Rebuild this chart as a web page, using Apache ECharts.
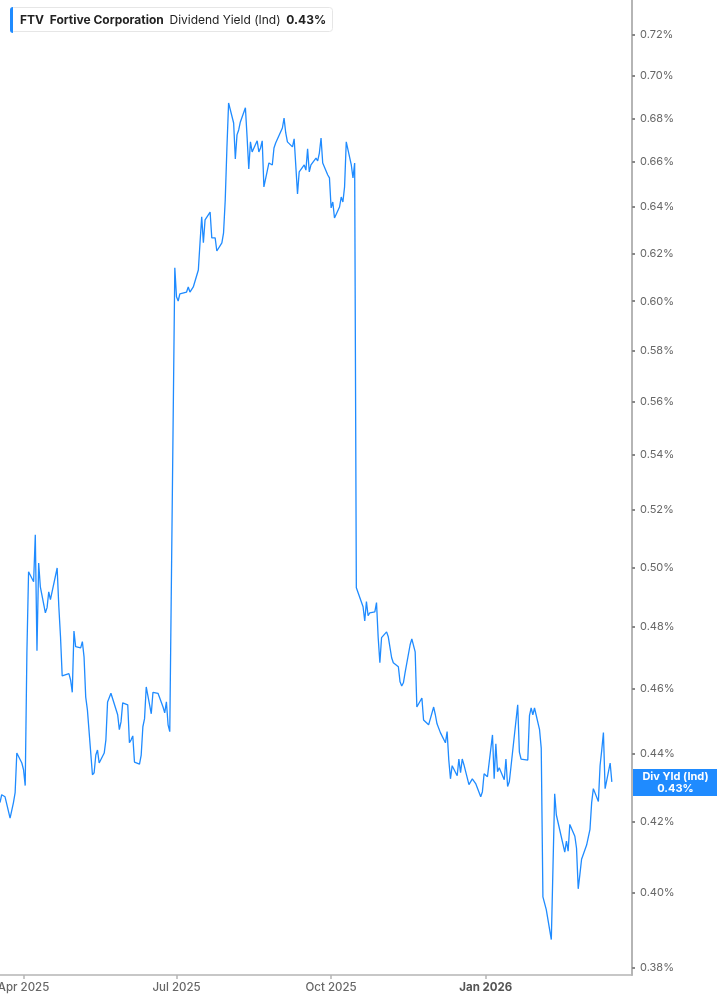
<!DOCTYPE html>
<html><head><meta charset="utf-8">
<script src="https://cdn.jsdelivr.net/npm/echarts@6/dist/echarts.min.js"></script>
<style>html,body{margin:0;padding:0;background:#fff}#c{width:717px;height:1005px}</style>
</head><body><div id="c"></div>
<script>
const ticker = 'FTV';
const companyName = 'Fortive Corporation';
const metricName = 'Dividend Yield (Ind)';
const endLabelName = 'Div Yld (Ind)';
const startDate = '2025-03-18';
const holidays = ['2025-04-18','2025-05-26','2025-06-19','2025-07-04','2025-09-01','2025-11-27','2025-12-25','2026-01-01','2026-01-19','2026-02-16'];

// Dividend yield (%), one value per trading day
const yieldSpring = [0.4256,0.4279,0.4282,0.4273,0.4211,0.4211,0.4256,0.4285,0.4403,0.4373,
0.4353,0.4306,0.4716,0.4985,0.4951,0.5113,0.4723,0.5015,0.4934,0.4847,
0.4864,0.4917,0.4891,0.4998,0.4867,0.4768,0.4642,0.4642,0.4649,0.4629,
0.4590,0.4787,0.4736,0.4732,0.4752,0.4703,0.4575,0.4535,0.4338,0.4344,
0.4397,0.4412,0.4373,0.4403,0.4443,0.4560,0.4560,0.4587,0.4520,0.4474,
0.4498,0.4557,0.4551,0.4434,0.4443,0.4455,0.4376,0.4370,0.4397,0.4483,
0.4508,0.4607,0.4523,0.4590,0.4584,0.4587,0.4544,0.4526,0.4560,0.4489,
0.4468];
const yieldSummer = [0.6139,0.6018,0.6001,0.6030,0.6038,0.6059,0.6038,0.6030,0.6059,0.6130,
0.6245,0.6357,0.6245,0.6344,0.6378,0.6266,0.6266,0.6266,0.6210,0.6245,
0.6288,0.6431,0.6664,0.6873,0.6779,0.6614,0.6724,0.6747,0.6784,0.6850,
0.6715,0.6569,0.6692,0.6646,0.6697,0.6646,0.6664,0.6697,0.6489,0.6596,
0.6596,0.6587,0.6664,0.6687,0.6756,0.6802,0.6733,0.6692,0.6669,0.6706,
0.6697,0.6458,0.6556,0.6587,0.6564,0.6660,0.6556,0.6587,0.6618,0.6605,
0.6641,0.6710,0.6596,0.6542,0.6529,0.6396,0.6422,0.6352,0.6400,0.6444,
0.6422,0.6489,0.6692,0.6587,0.6529,0.6596];
const yieldAutumn = [0.4931,0.4928,0.4867,0.4820,0.4884,0.4837,0.4847,0.4850,0.4881,0.4765,
0.4684,0.4765,0.4784,0.4768,0.4774,0.4700,0.4684,0.4671,0.4623,0.4610,
0.4620,0.4652,0.4742,0.4761,0.4758,0.4719,0.4544,0.4572,0.4504,0.4504,
0.4489,0.4544,0.4520,0.4492,0.4495,0.4465,0.4434,0.4468,0.4382,0.4326,
0.4365,0.4335,0.4385,0.4344,0.4385,0.4368,0.4309];
const yieldWinter = [0.4312,0.4326,0.4312,0.4273,0.4288,0.4341,0.4332,0.4458,0.4326,0.4431,
0.4347,0.4359,0.4323,0.4385,0.4303,0.4317,0.4362,0.4551,0.4406,0.4385,
0.4391,0.4382,0.4517,0.4541,0.4520,0.4541,0.4474,0.4418,0.3990,0.3990,
0.3955,0.3875,0.4074,0.4282,0.4220,0.4220,0.4114,0.4145,0.4117,0.4193,
0.4159,0.4125,0.4012,0.4052,0.4094,0.4134,0.4137,0.4179,0.4256,0.4297,
0.4259,0.4365,0.4412,0.4465,0.4297,0.4373,0.4317];

const yTicks = [0.38,0.40,0.42,0.44,0.46,0.48,0.50,0.52,0.54,0.56,0.58,0.60,0.62,0.64,0.66,0.68,0.70,0.72];
const xTicks = ['2025-04-01','2025-07-01','2025-10-01','2026-01-01'];
const monthNames = ['Jan','Feb','Mar','Apr','May','Jun','Jul','Aug','Sep','Oct','Nov','Dec'];

const values = yieldSpring.concat(yieldSummer, yieldAutumn, yieldWinter);

function ts(s) { return Date.parse(s + 'T00:00:00Z'); }
function tradingDays(start, n) {
  const out = [];
  const d = new Date(start + 'T00:00:00Z');
  while (out.length < n) {
    const s = d.toISOString().slice(0, 10);
    const dow = d.getUTCDay();
    if (dow !== 0 && dow !== 6 && holidays.indexOf(s) < 0) out.push(s);
    d.setUTCDate(d.getUTCDate() + 1);
  }
  return out;
}
const dates = tradingDays(startDate, values.length);
const seriesData = dates.map((d, i) => [ts(d), values[i]]);
const lastVal = values[values.length - 1];
const lastTxt = lastVal.toFixed(2) + '%';

const FONT = 'Inter, "Noto Sans", sans-serif';
const BLUE = '#1f8bff';

const chart = echarts.init(document.getElementById('c'), null, {renderer: 'canvas'});
chart.setOption({
  animation: false,
  textStyle: {fontFamily: FONT},
  grid: {left: 0, right: 85, top: 0, bottom: 30, containLabel: false, outerBoundsMode: 'none'},
  title: {
    left: 10, top: 7,
    padding: [7, 7, 6, 10],
    backgroundColor: '#fff',
    borderColor: '#e6e6e6', borderWidth: 1, borderRadius: 3,
    text: '{t|' + ticker + '}  {n|' + companyName + '}  {d|' + metricName + '}  {v|' + lastTxt + '}',
    textStyle: {
      fontFamily: FONT, fontSize: 12, color: '#222',
      rich: {
        t: {fontFamily: FONT, fontSize: 12, fontWeight: 'bold', color: '#222'},
        n: {fontFamily: FONT, fontSize: 12, fontWeight: 'bold', color: '#222'},
        d: {fontFamily: FONT, fontSize: 12, fontWeight: 'normal', color: '#222'},
        v: {fontFamily: FONT, fontSize: 12, fontWeight: 'bold', color: '#222'}
      }
    }
  },
  graphic: [{
    type: 'rect', left: 10, top: 7, z: 100,
    shape: {width: 3, height: 26, r: [3, 0, 0, 3]},
    style: {fill: BLUE}
  }],
  xAxis: {
    type: 'value',
    min: ts('2025-03-18'), max: ts('2026-03-29'),
    axisLine: {lineStyle: {color: '#b5b5b5', width: 1.5}},
    axisTick: {show: true, customValues: xTicks.map(ts), length: 4, lineStyle: {color: '#b5b5b5', width: 1.5}},
    splitLine: {show: false},
    axisLabel: {
      customValues: xTicks.map(ts),
      margin: 7,
      fontFamily: FONT, fontSize: 11.5, color: '#666', fontWeight: 500,
      formatter: function (v) {
        const d = new Date(v);
        const m = d.getUTCMonth();
        const txt = monthNames[m] + ' ' + d.getUTCFullYear();
        return m === 0 ? '{b|' + txt + '}' : txt;
      },
      rich: {b: {fontFamily: FONT, fontSize: 11.5, fontWeight: 'bold', color: '#555'}}
    }
  },
  yAxis: {
    type: 'log', logBase: 10,
    position: 'right',
    min: 0.3782, max: 0.7375,
    axisLine: {show: true, lineStyle: {color: '#b5b5b5', width: 2}},
    axisTick: {show: true, customValues: yTicks, length: 3, inside: false, lineStyle: {color: '#888', width: 2}},
    splitLine: {show: false},
    axisLabel: {
      customValues: yTicks,
      margin: 8,
      fontFamily: FONT, fontSize: 11, color: '#666',
      formatter: function (v) { return Number(v).toFixed(2) + '%'; }
    }
  },
  series: [{
    type: 'line',
    data: seriesData,
    clip: false,
    showSymbol: false,
    symbol: 'none',
    lineStyle: {color: BLUE, width: 1.3},
    markLine: {
      silent: true,
      symbol: ['none', 'none'],
      lineStyle: {color: 'rgba(0,0,0,0)', width: 0},
      data: [{yAxis: lastVal}],
      label: {
        show: true, position: 'end', distance: 1,
        offset: [0, -5],
        backgroundColor: BLUE,
        width: 85, padding: [2, 0, 1, 0],
        formatter: '{a|' + endLabelName + '}\n{a|' + lastTxt + '}',
        rich: {a: {fontFamily: FONT, fontSize: 11, fontWeight: 'bold', color: '#fff', lineHeight: 12, align: 'center', width: 85}}
      }
    }
  }]
});
</script></body></html>
